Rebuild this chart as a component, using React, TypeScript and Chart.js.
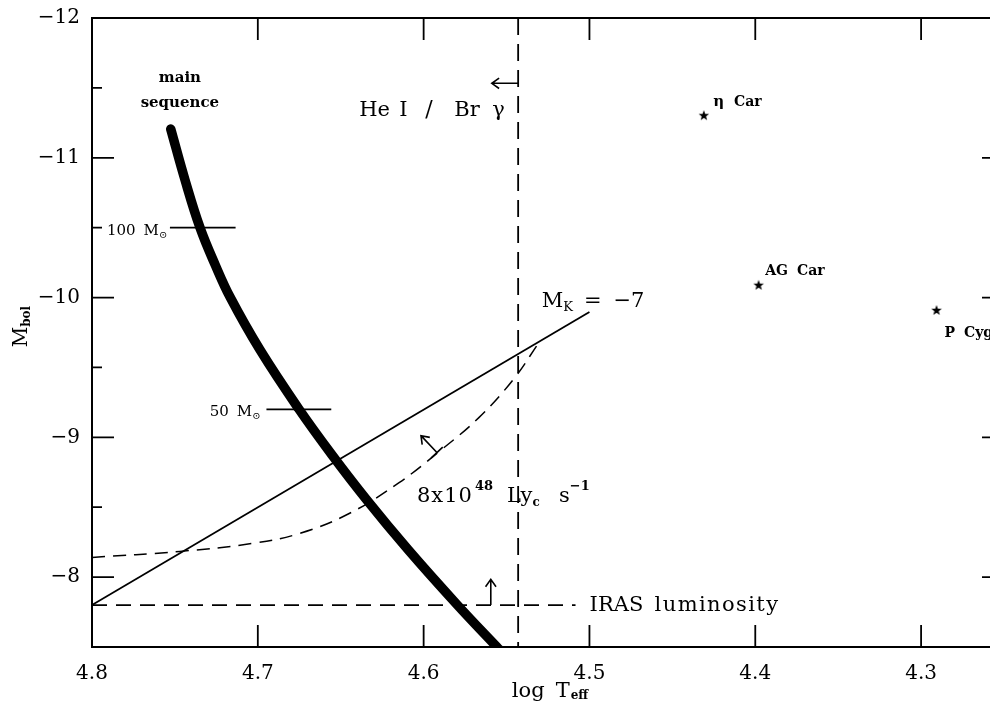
import React, { useEffect, useRef } from "react";
import { Chart, registerables } from "chart.js";
Chart.register(...registerables);

// ---- axis ranges / ticks ----
const X_LIMITS = [4.25, 4.8];
const Y_LIMITS = [-12, -7.5];
const xTickValues = [4.8, 4.7, 4.6, 4.5, 4.4, 4.3];
const yMajorTicks = [-12, -11, -10, -9, -8];
const yMinorTicks = [-11.5, -10.5, -9.5, -8.5];

// ---- main sequence (thick curve) ----
const mainSeqLogT = [4.7525, 4.7439, 4.7348, 4.7257, 4.7165, 4.6987, 4.6754, 4.6554, 4.6345, 4.6095, 4.58, 4.5562, 4.5486];
const mainSeqMbol = [-11.205, -10.841, -10.498, -10.234, -9.998, -9.626, -9.205, -8.876, -8.555, -8.198, -7.805, -7.505, -7.412];

// ---- M_K = -7 line ----
const mkLogT = [4.8, 4.5];
const mkMbol = [-7.8, -9.896];

// ---- 8x10^48 Lyc s^-1 dashed curve ----
const lycLogT = [4.8, 4.7471, 4.7032, 4.6749, 4.6449, 4.6148, 4.5907, 4.5667, 4.5456, 4.5306];
const lycMbol = [-8.141, -8.184, -8.241, -8.312, -8.455, -8.676, -8.898, -9.141, -9.419, -9.676];

// ---- IRAS luminosity ----
const irasLogT = [4.8, 4.5084];
const irasMbol = [-7.8, -7.8];

// ---- He I / Br gamma limit ----
const heLogT = [4.543, 4.543];
const heMbol = [-12, -7.5];

// ---- mass markers ----
const mass100LogT = [4.753, 4.7134];
const mass100Mbol = [-10.5, -10.5];
const mass50LogT = [4.6948, 4.6557];
const mass50Mbol = [-9.2, -9.2];

// ---- stars ----
const starNames = ["η Car", "AG Car", "P Cyg"];
const starLogT = [4.431, 4.398, 4.2907];
const starMbol = [-11.305, -10.091, -9.911];

// ---- arrows [x0, y0, x1, y1] (tail -> head) ----
const heArrow = [4.543, -11.533, 4.5589, -11.533];
const irasArrow = [4.5595, -7.8, 4.5595, -7.984];
const lycArrow = [4.592, -8.891, 4.6016, -9.012];

const SERIF = '"DejaVu Serif", "DejaVu Sans", serif';

const pts = (xs: number[], ys: number[]) => xs.map((x, i) => ({ x, y: ys[i] }));

type Part = { t: string; size: number; bold?: boolean; dy?: number; gap?: number; at?: number; ls?: number };

function drawRich(ctx: CanvasRenderingContext2D, parts: Part[], x: number, y: number) {
  let cx = x;
  for (const p of parts) {
    if (p.at !== undefined) cx = x + p.at;
    cx += p.gap || 0;
    ctx.font = `${p.bold ? "bold " : ""}${p.size}px ${SERIF}`;
    (ctx as any).letterSpacing = `${p.ls || 0}px`;
    ctx.fillText(p.t, cx, y + (p.dy || 0));
    cx += ctx.measureText(p.t).width;
  }
  (ctx as any).letterSpacing = "0px";
}

function arrow(ctx: CanvasRenderingContext2D, x0: number, y0: number, x1: number, y1: number, cross = false) {
  const ang = Math.atan2(y1 - y0, x1 - x0);
  const L = 9;
  const a = 0.62;
  ctx.beginPath();
  ctx.moveTo(x0, y0);
  ctx.lineTo(x1, y1);
  ctx.moveTo(x1 - L * Math.cos(ang - a), y1 - L * Math.sin(ang - a));
  ctx.lineTo(x1, y1);
  ctx.lineTo(x1 - L * Math.cos(ang + a), y1 - L * Math.sin(ang + a));
  if (cross) {
    const px = -Math.sin(ang), py = Math.cos(ang);
    ctx.moveTo(x0 - 8 * px, y0 - 8 * py);
    ctx.lineTo(x0 + 8 * px, y0 + 8 * py);
  }
  ctx.stroke();
}

const overlay = {
  id: "overlay",
  afterDatasetsDraw(chart: any) {
    const ctx: CanvasRenderingContext2D = chart.ctx;
    const xs = chart.scales.x, ys = chart.scales.y;
    const X = (v: number) => xs.getPixelForValue(v);
    const Y = (v: number) => ys.getPixelForValue(v);
    const { left, right, top, bottom } = chart.chartArea;
    ctx.save();
    ctx.strokeStyle = "#000";
    ctx.fillStyle = "#000";
    ctx.lineCap = "butt";
    // frame
    ctx.lineWidth = 2;
    ctx.strokeRect(left, top, right - left, bottom - top);
    // ticks
    ctx.lineWidth = 1.8;
    ctx.beginPath();
    for (const v of xTickValues) {
      const px = X(v);
      ctx.moveTo(px, bottom); ctx.lineTo(px, bottom - 22);
      ctx.moveTo(px, top); ctx.lineTo(px, top + 22);
    }
    for (const v of yMajorTicks) {
      const py = Y(v);
      ctx.moveTo(left, py); ctx.lineTo(left + 22, py);
      ctx.moveTo(right, py); ctx.lineTo(right - 22, py);
    }
    for (const v of yMinorTicks) {
      const py = Y(v);
      ctx.moveTo(left, py); ctx.lineTo(left + 10, py);
      ctx.moveTo(right, py); ctx.lineTo(right - 10, py);
    }
    ctx.stroke();

    // arrows
    ctx.lineWidth = 1.6;
    arrow(ctx, X(heArrow[0]), Y(heArrow[1]), X(heArrow[2]), Y(heArrow[3]));
    arrow(ctx, X(irasArrow[0]), Y(irasArrow[1]), X(irasArrow[2]), Y(irasArrow[3]));
    arrow(ctx, X(lycArrow[0]), Y(lycArrow[1]), X(lycArrow[2]), Y(lycArrow[3]), true);

    // texts
    ctx.textBaseline = "alphabetic";
    ctx.textAlign = "center";
    ctx.font = `bold 15px ${SERIF}`;
    ctx.fillText("main", X(4.747), Y(-11.545));
    ctx.fillText("sequence", X(4.747), Y(-11.365));
    ctx.textAlign = "left";
    // mass labels
    drawRich(ctx, [{ t: "100", size: 15 }, { t: "M", size: 15, gap: 8 }, { t: "⊙", size: 10, dy: 3 }], X(4.791), Y(-10.45));
    drawRich(ctx, [{ t: "50", size: 15 }, { t: "M", size: 15, gap: 8 }, { t: "⊙", size: 10, dy: 3 }], X(4.729), Y(-9.155));
    // He I / Br gamma
    drawRich(ctx, [
      { t: "He", size: 21, at: 0 }, { t: "I", size: 21, at: 40 }, { t: "/", size: 22, at: 66 },
      { t: "Br", size: 21, at: 95 }, { t: "γ", size: 21, at: 133 }
    ], X(4.6388), Y(-11.3));
    // M_K = -7
    drawRich(ctx, [
      { t: "M", size: 21 }, { t: "K", size: 13, dy: 4 }, { t: "=", size: 21, gap: 11 }, { t: "−7", size: 21, gap: 12 }
    ], X(4.5288), Y(-9.93));
    // Lyc
    drawRich(ctx, [
      { t: "8x10", size: 21, ls: 1 }, { t: "48", size: 13, bold: true, dy: -12, gap: 2 },
      { t: "Ly", size: 21, at: 90 }, { t: "c", size: 12, bold: true, dy: 4 },
      { t: "s", size: 21, at: 142 }, { t: "−1", size: 13, bold: true, dy: -12 }
    ], X(4.604), Y(-8.54));
    // IRAS
    drawRich(ctx, [{ t: "IRAS", size: 21 }, { t: "luminosity", size: 21, at: 65, ls: 1.4 }], X(4.4999), Y(-7.755));
    // star labels
    drawRich(ctx, [{ t: "η", size: 15, bold: true }, { t: "Car", size: 14, bold: true, gap: 10 }], X(4.4254), Y(-11.37));
    drawRich(ctx, [{ t: "AG", size: 14, bold: true }, { t: "Car", size: 14, bold: true, gap: 9 }], X(4.394), Y(-10.16));
    drawRich(ctx, [{ t: "P", size: 14, bold: true }, { t: "Cyg", size: 14, bold: true, gap: 9 }], X(4.2859), Y(-9.72));

    // axis titles
    drawRich(ctx, [{ t: "log", size: 21 }, { t: "T", size: 21, gap: 11 }, { t: "eff", size: 12, bold: true, dy: 2, gap: 1 }], X(4.5468), bottom + 50);
    ctx.save();
    ctx.translate(left - 65, Y(-9.78));
    ctx.rotate(-Math.PI / 2);
    ctx.textAlign = "left";
    drawRich(ctx, [{ t: "M", size: 20 }, { t: "bol", size: 12, bold: true, dy: 3 }], -19, 0);
    ctx.restore();
    ctx.restore();
  }
};

function makeStar(): HTMLCanvasElement {
  const c = document.createElement("canvas");
  c.width = 12; c.height = 12;
  const g = c.getContext("2d")!;
  g.fillStyle = "#000";
  g.beginPath();
  for (let i = 0; i < 10; i++) {
    const r = i % 2 === 0 ? 5.5 : 2.3;
    const a = -Math.PI / 2 + (i * Math.PI) / 5;
    const px = 6 + r * Math.cos(a), py = 6.5 + r * Math.sin(a);
    if (i === 0) g.moveTo(px, py); else g.lineTo(px, py);
  }
  g.closePath();
  g.fill();
  return c;
}

export default function App() {
  const ref = useRef<HTMLCanvasElement>(null);
  useEffect(() => {
    const lineDs = (data: any[], width: number, dash: number[] = [], extra: any = {}) => ({
      type: "scatter" as const,
      data,
      showLine: true,
      borderColor: "#000",
      backgroundColor: "#000",
      borderWidth: width,
      borderDash: dash,
      pointRadius: 0,
      tension: 0,
      ...extra
    });
    const chart = new Chart(ref.current!, {
      type: "scatter",
      data: {
        datasets: [
          lineDs(pts(mainSeqLogT, mainSeqMbol), 9.5, [], { tension: 0.4, borderCapStyle: "round", clip: 0 }),
          lineDs(pts(mkLogT, mkMbol), 1.8),
          lineDs(pts(lycLogT, lycMbol), 1.5, [13, 8], { tension: 0.4 }),
          lineDs(pts(irasLogT, irasMbol), 1.8, [15, 9]),
          lineDs(pts(heLogT, heMbol), 1.8, [17, 9]),
          lineDs(pts(mass100LogT, mass100Mbol), 1.6),
          lineDs(pts(mass50LogT, mass50Mbol), 1.6),
          {
            type: "scatter" as const,
            data: pts(starLogT, starMbol),
            pointStyle: makeStar(),
            pointRadius: 5,
            showLine: false
          } as any
        ]
      },
      options: {
        animation: false,
        responsive: false,
        events: [],
        layout: { padding: { top: 10, right: 14, left: 0, bottom: 0 } },
        plugins: { legend: { display: false }, tooltip: { enabled: false } },
        scales: {
          x: {
            type: "linear",
            min: X_LIMITS[0],
            max: X_LIMITS[1],
            reverse: true,
            grid: { display: false, drawTicks: false },
            border: { display: false },
            afterBuildTicks: (s: any) => { s.ticks = xTickValues.map((v) => ({ value: v })); },
            afterFit: (s: any) => { s.height = 60; s.paddingLeft = 0; s.paddingRight = 0; },
            ticks: {
              color: "#000",
              font: { family: SERIF, size: 20 },
              padding: 15,
              autoSkip: false,
              maxRotation: 0,
              callback: (v: any) => Number(v).toFixed(1)
            }
          },
          y: {
            type: "linear",
            min: Y_LIMITS[0],
            max: Y_LIMITS[1],
            reverse: true,
            grid: { display: false, drawTicks: false },
            border: { display: false },
            afterBuildTicks: (s: any) => { s.ticks = yMajorTicks.map((v) => ({ value: v })); },
            afterFit: (s: any) => { s.width = 84; s.paddingTop = 0; s.paddingBottom = 0; },
            ticks: {
              color: "#000",
              font: { family: SERIF, size: 20 },
              padding: 12,
              autoSkip: false,
              callback: (v: any) => (Number(v) < 0 ? "\u2212" + Math.abs(Number(v)) : String(v))
            }
          }
        }
      },
      plugins: [overlay]
    } as any);
    return () => chart.destroy();
  }, []);
  return (
    <div style={{ width: 990, height: 699, overflow: "hidden" }}>
      <canvas ref={ref} width={1010} height={699} style={{ display: "block" }} />
    </div>
  );
}
